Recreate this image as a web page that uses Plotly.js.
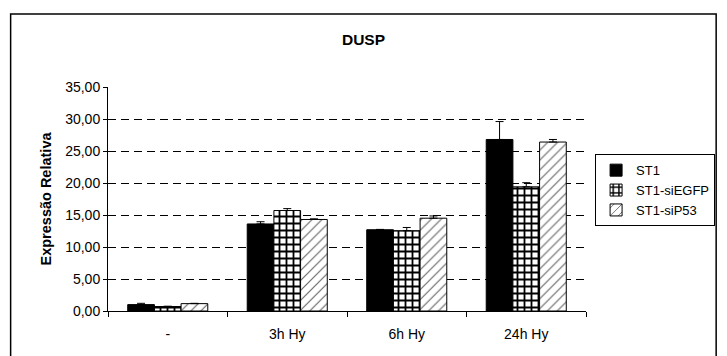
<!DOCTYPE html>
<html>
<head>
<meta charset="utf-8">
<script src="https://cdn.plot.ly/plotly-3.0.1.min.js"></script>
<style>html,body{margin:0;padding:0;background:#fff;}#chart{width:727px;height:356px;}</style>
</head>
<body>
<div id="chart"></div>
<script>
var categories = ["-", "3h Hy", "6h Hy", "24h Hy"];
var seriesNames = ["ST1", "ST1-siEGFP", "ST1-siP53"];
var st1 = [1.0, 13.6, 12.7, 26.8];
var st1Err = [0.2, 0.35, 0.05, 2.8];
var siEGFP = [0.7, 15.7, 12.55, 19.4];
var siEGFPErr = [0.05, 0.3, 0.5, 0.65];
var siP53 = [1.15, 14.3, 14.5, 26.4];
var siP53Err = [0.05, 0.1, 0.35, 0.4];

var font = "Liberation Sans, Arial, sans-serif";

function errBar(arr) {
  return {type: "data", array: arr, arrayminus: arr.map(function(){return 0;}), symmetric: false,
          color: "#000", thickness: 1, width: 4, visible: true};
}

var traces = [
  {type: "bar", name: seriesNames[0], x: categories, y: st1, error_y: errBar(st1Err),
   marker: {color: "#000", line: {color: "#000", width: 1}}},
  {type: "bar", name: seriesNames[1], x: categories, y: siEGFP, error_y: errBar(siEGFPErr),
   marker: {color: "#fff", line: {color: "#000", width: 1},
            pattern: {shape: "+", fgcolor: "#000", bgcolor: "#fff", size: 7, solidity: 0.45}}},
  {type: "bar", name: seriesNames[2], x: categories, y: siP53, error_y: errBar(siP53Err),
   marker: {color: "#fff", line: {color: "#000", width: 1},
            pattern: {shape: "/", fgcolor: "#666", bgcolor: "#fff", size: 7, solidity: 0.16}}}
];

var layout = {
  width: 727, height: 356,
  margin: {l: 108, r: 138, t: 87, b: 45},
  paper_bgcolor: "#fff", plot_bgcolor: "#fff",
  separators: ",.",
  font: {family: font, size: 14, color: "#000"},
  title: {text: "<b>DUSP</b>", font: {family: font, size: 15.5, color: "#000"},
          x: 0.5, xref: "container", xanchor: "center", y: 0.888, yref: "container", yanchor: "middle"},
  barmode: "group",
  bargap: 0.33,
  bargroupgap: 0,
  showlegend: true,
  legend: {x: 1.019, xanchor: "left", y: 0.70, yanchor: "top", bordercolor: "#000", borderwidth: 1,
           bgcolor: "#fff", font: {family: font, size: 13, color: "#000"}, tracegroupgap: 0, itemwidth: 30},
  xaxis: {type: "category", showline: true, linecolor: "#000", linewidth: 1,
          ticks: "outside", tickson: "boundaries", ticklen: 5, tickcolor: "#000",
          ticklabelstandoff: 10, showgrid: false, zeroline: false,
          tickfont: {family: font, size: 14, color: "#000"}},
  yaxis: {range: [0, 35], dtick: 5, tick0: 0, tickformat: ".2f", showline: true, linecolor: "#000", linewidth: 1,
          ticks: "outside", ticklen: 4, tickcolor: "#000", showgrid: true, gridcolor: "#000", gridwidth: 1,
          griddash: "8px,5px", zeroline: false,
          tickfont: {family: font, size: 14, color: "#000"},
          title: {text: "<b>Expressão Relativa</b>", font: {family: font, size: 14.5, color: "#000"}, standoff: 10}},
  shapes: [
    {type: "rect", xref: "paper", yref: "paper", x0: -0.2037, x1: 1.2723, y0: -0.35, y1: 1.3259,
     line: {color: "#000", width: 1.5}, fillcolor: "rgba(0,0,0,0)", layer: "below"}
  ]
};

Plotly.newPlot("chart", traces, layout, {displayModeBar: false, staticPlot: true});
</script>
</body>
</html>
